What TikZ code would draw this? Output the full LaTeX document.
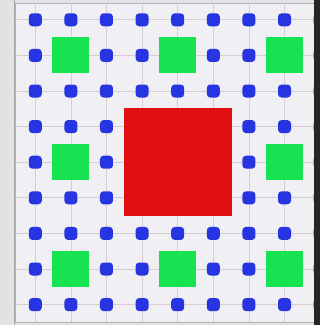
\documentclass[tikz,border=0pt]{standalone}
\usetikzlibrary{positioning}
\definecolor{dotblue}{RGB}{38,52,226}
\definecolor{sqgreen}{RGB}{22,226,82}
\definecolor{holered}{RGB}{226,16,18}
\definecolor{panel}{RGB}{240,240,244}
\definecolor{outside}{RGB}{226,226,228}
\definecolor{gridline}{RGB}{214,204,210}

\begin{document}
\begin{tikzpicture}[
    x=1pt, y=-1pt,
    dot/.style={fill=dotblue, rounded corners=3.5pt, minimum size=13pt, inner sep=0pt},
    cell/.style={fill=sqgreen, minimum width=37pt, minimum height=36pt, inner sep=0pt},
    hole/.style={fill=holered, minimum width=108pt, minimum height=108pt, inner sep=0pt},
]
\useasboundingbox (0,0) rectangle (320,325);

% window and panel
\fill[outside] (0,0) rectangle (320,325);
\draw[gray!60, fill=panel] (15,3) rectangle (315,322);

% faint grid through the points
\foreach \i in {1,...,9} {
  \draw[gridline, line width=0.8pt] (15,{19.8+35.6*(\i-1)}) -- (315,{19.8+35.6*(\i-1)});
  \draw[gridline, line width=0.8pt] ({35.3+35.6*(\i-1)},3) -- ({35.3+35.6*(\i-1)},322);
}

% points, skipping squares and the middle hole
\foreach \c in {1,...,9}
  \foreach \r in {1,...,9} {
    \pgfmathtruncatemacro\inhole{(\c>3)&&(\c<7)&&(\r>3)&&(\r<7)}
    \pgfmathtruncatemacro\insq{(mod(\c,3)==2)&&(mod(\r,3)==2)}
    \ifnum\inhole=0 \ifnum\insq=0
      \node[dot] (pt-\c-\r) at ({35.3+35.6*(\c-1)},{19.8+35.6*(\r-1)}) {};
    \fi\fi
  }

% green squares
\foreach \c in {2,5,8}
  \foreach \r in {2,5,8} {
    \pgfmathtruncatemacro\mid{(\c==5)&&(\r==5)}
    \ifnum\mid=0
      \node[cell] (sq-\c-\r) at ({35.3+35.6*(\c-1)},{19.8+35.6*(\r-1)}) {};
    \fi
  }

% red hole in the middle
\node[hole] (middle) at (178,162) {};

% dark edge on the right
\fill[black!85] (314.5,0) rectangle (320,325);
\draw[gray!70, line width=0.8pt] (14.6,0) -- (14.6,325);
\end{tikzpicture}
\end{document}
